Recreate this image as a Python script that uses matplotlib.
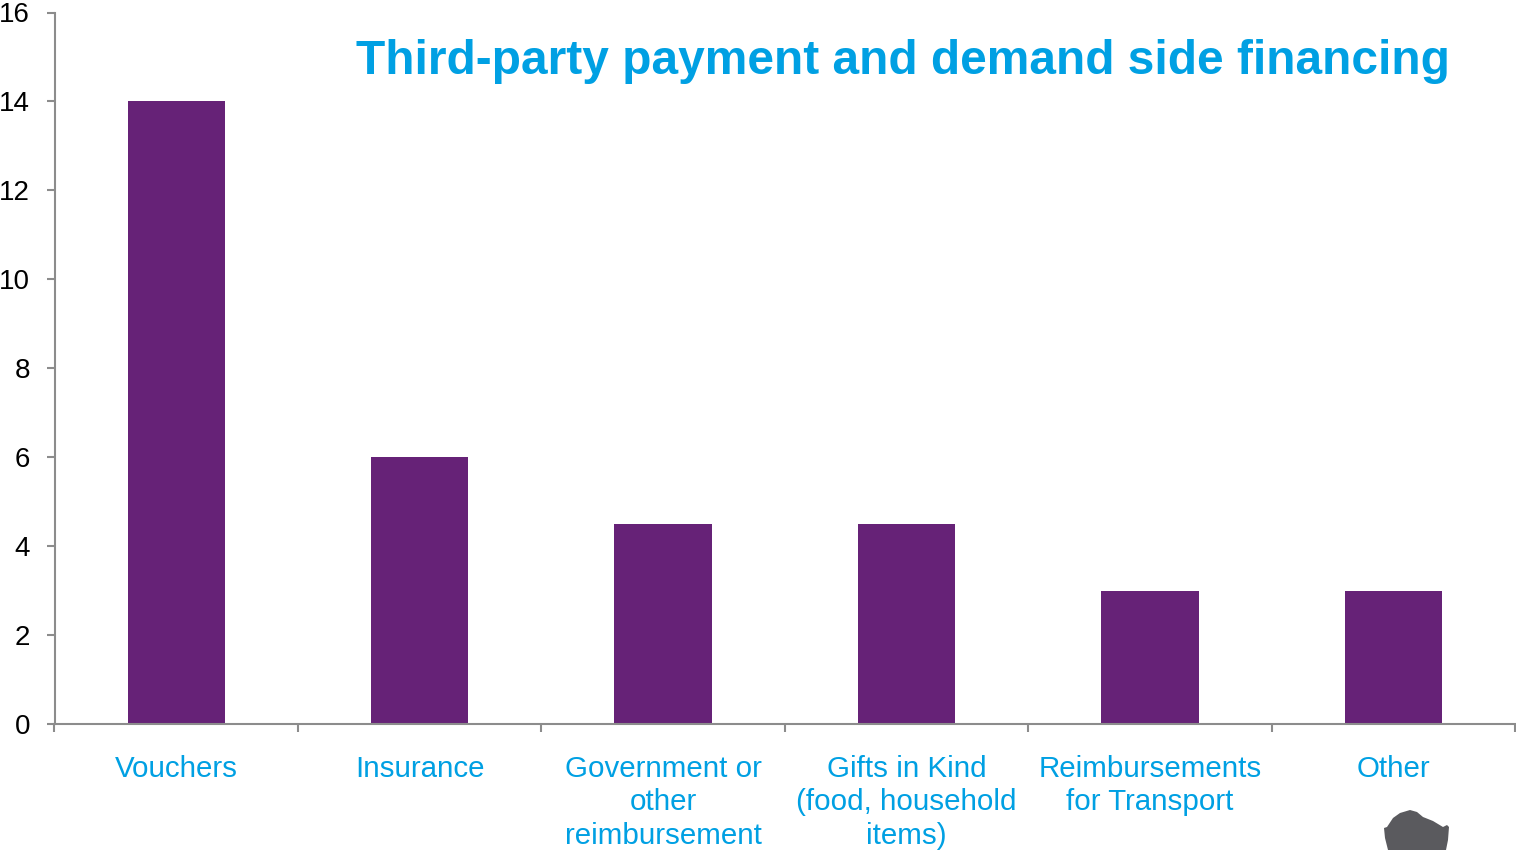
import matplotlib
matplotlib.use("Agg")
import matplotlib.pyplot as plt
from matplotlib.patches import Polygon
from matplotlib.ticker import FixedLocator, NullFormatter

plt.rcParams["font.family"] = ["Liberation Sans", "DejaVu Sans"]

W, H = 1516, 850
PURPLE = "#662277"
BLUE = "#00A0E3"
GREY = "#8C8C8C"

categories = [
    "Vouchers",
    "Insurance",
    "Government or\nother\nreimbursement",
    "Gifts in Kind\n(food, household\nitems)",
    "Reimbursements\nfor Transport",
    "Other",
]
values = [14, 6, 4.5, 4.5, 3, 3]
y_ticks = [0, 2, 4, 6, 8, 10, 12, 14, 16]
title = "Third-party payment and demand side financing"

# small grey silhouette cut off by the bottom edge, in pixel coordinates
blob_outline = [
    (1388, 850), (1385, 838), (1384, 828), (1387, 827), (1393, 818), (1400, 813),
    (1410, 810), (1417, 812), (1423, 817), (1433, 821), (1443, 827),
    (1447, 825), (1449, 827), (1448, 840), (1446, 850),
]

fig = plt.figure(figsize=(W / 100, H / 100), dpi=100, facecolor="white")
ax = fig.add_axes([54.5 / W, 1 - 724 / H, (1515 - 54.5) / W, (724 - 12.5) / H])

positions = list(range(len(categories)))
ax.bar(positions, values, width=0.4, color=PURPLE, zorder=2)
ax.set_xlim(-0.5, len(categories) - 0.5)
ax.set_ylim(0, 16)

for side in ("top", "right"):
    ax.spines[side].set_visible(False)
for side in ("left", "bottom"):
    ax.spines[side].set_color(GREY)
    ax.spines[side].set_linewidth(1.5)

# group boundaries carry the tick marks, group centres carry the labels
ax.xaxis.set_major_locator(FixedLocator([p - 0.5 for p in range(len(categories) + 1)]))
ax.xaxis.set_major_formatter(NullFormatter())
ax.set_xticks(positions, categories, minor=True)
ax.tick_params(axis="x", which="major", length=6, width=1.5, color=GREY)
ax.tick_params(axis="x", which="minor", length=0, pad=22, labelsize=21.25, labelcolor=BLUE)
for label in ax.get_xticklabels(minor=True):
    label.set_linespacing(1.27)

ax.set_yticks(y_ticks)
ax.tick_params(axis="y", length=6, width=1.5, color=GREY, pad=11.5, labelsize=20, labelcolor="black")

fig.text(903 / W, 1 - 62 / H, title, color=BLUE, fontsize=34.5, fontweight="bold",
         ha="center", va="center")

blob = [(x / W, 1 - y / H) for x, y in blob_outline]
fig.add_artist(Polygon(blob, closed=True, facecolor="#5A5A5E", edgecolor="none",
                       transform=fig.transFigure))

fig.savefig("out.png", dpi=100, facecolor="white")
